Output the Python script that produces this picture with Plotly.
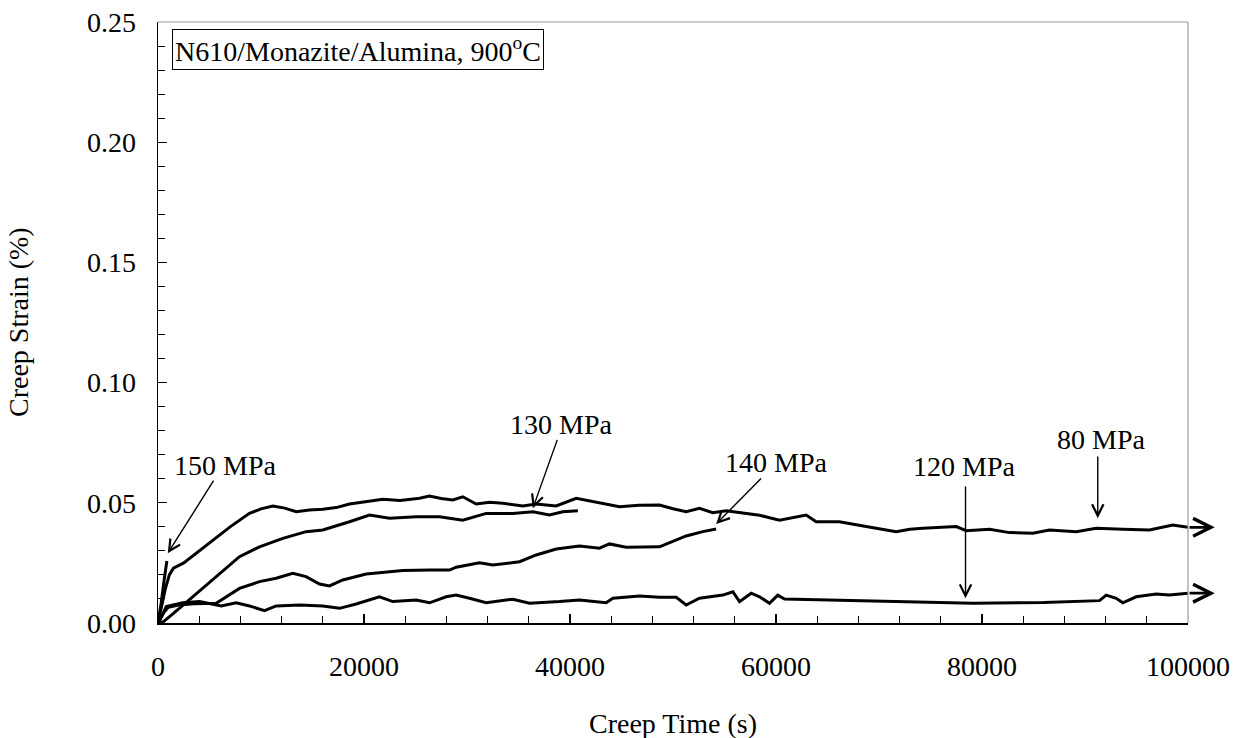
import plotly.graph_objects as go

# ---------------- data ----------------
x_80 = [0, 300, 700, 1100, 1500, 2500, 4000, 5500, 7000, 8880, 10000, 11150, 12300, 13420, 14700,
        16000, 17300, 18590, 20200, 21830, 23500, 25390, 26360, 27500, 28620, 29590, 30890, 32200,
        33480, 35420, 36720, 38660, 40600, 42210, 44810, 46700, 48690, 50000, 51280, 52570, 53860,
        55160, 56780, 58400, 60340, 61800, 62930, 63900, 66160, 68750, 70200, 71670, 73000, 74250,
        77500, 78460, 80730, 82670, 84930, 86550, 89150, 91090, 93670, 96260, 98520, 100000]
y_80 = [0, 0.006, 0.014, 0.020, 0.0228, 0.025, 0.030, 0.035, 0.040, 0.0456, 0.0475, 0.0487, 0.0478,
        0.0463, 0.0470, 0.0473, 0.0480, 0.0495, 0.0505, 0.0515, 0.0510, 0.0519, 0.0528, 0.0518,
        0.0512, 0.0525, 0.0495, 0.0502, 0.0498, 0.0487, 0.0495, 0.0487, 0.0519, 0.0505, 0.0484,
        0.0490, 0.0491, 0.0475, 0.0463, 0.0477, 0.0459, 0.0467, 0.0456, 0.0448, 0.0428, 0.0440,
        0.0449, 0.0421, 0.0421, 0.0401, 0.0392, 0.0380, 0.0390, 0.0394, 0.0401, 0.0384, 0.0390,
        0.0376, 0.0373, 0.0387, 0.0380, 0.0394, 0.0390, 0.0387, 0.0408, 0.0398]

x_130 = [0, 500, 1500, 3380, 5650, 7910, 9850, 12120, 14380, 16000, 18590, 20530, 22480, 25070,
         27330, 29590, 31860, 34450, 36390, 38010, 39300, 40760]
y_130 = [0, 0.0005, 0.004, 0.0109, 0.0193, 0.0276, 0.0317, 0.0352, 0.0380, 0.0387, 0.0421, 0.0449,
         0.0436, 0.0442, 0.0442, 0.0428, 0.0456, 0.0456, 0.0463, 0.0449, 0.0463, 0.0467]

x_140 = [0, 500, 1000, 2000, 3500, 5650, 7910, 9850, 11470, 13090, 14380, 15680, 16650, 17940,
         20210, 23770, 26360, 28300, 28950, 31210, 32500, 35100, 36720, 38660, 40920, 42860, 43830,
         45450, 48690, 49980, 51280, 52890, 54190]
y_140 = [0, 0.004, 0.0065, 0.0075, 0.0080, 0.0082, 0.0144, 0.0172, 0.0186, 0.0207, 0.0193, 0.0162,
         0.0154, 0.0179, 0.0204, 0.0218, 0.0220, 0.0220, 0.0232, 0.0251, 0.0241, 0.0255, 0.0283,
         0.0308, 0.0320, 0.0311, 0.0329, 0.0315, 0.0317, 0.0338, 0.0362, 0.0380, 0.0391]

x_120 = [0, 400, 800, 2410, 4030, 6140, 7590, 8880, 10340, 11470, 13740, 16000, 17620, 19240, 21500,
         22800, 25070, 26360, 27980, 28950, 30240, 31860, 34450, 36070, 38980, 40920, 43510, 44160,
         46750, 48690, 50310, 51280, 52570, 54840, 55810, 56460, 57590, 58400, 59370, 60170, 60830,
         70000, 79110, 86000, 91410, 92060, 93030, 93670, 94970, 96910, 98200, 100000]
y_120 = [0, 0.003, 0.0068, 0.0084, 0.0089, 0.0071, 0.0084, 0.0071, 0.0051, 0.0071, 0.0075, 0.0071,
         0.0061, 0.0079, 0.0109, 0.0089, 0.0096, 0.0084, 0.0109, 0.0116, 0.0103, 0.0084, 0.0099,
         0.0082, 0.0089, 0.0096, 0.0084, 0.0103, 0.0112, 0.0107, 0.0107, 0.0075, 0.0103, 0.0116,
         0.0130, 0.0089, 0.0124, 0.0109, 0.0082, 0.0116, 0.0100, 0.0090, 0.0082, 0.0085, 0.0093,
         0.0116, 0.0103, 0.0084, 0.0109, 0.0121, 0.0116, 0.0124]

x_150 = [0, 300, 600, 860]
y_150 = [0, 0.008, 0.018, 0.0258]

x_ticks = [0, 20000, 40000, 60000, 80000, 100000]
y_ticks = [0.00, 0.05, 0.10, 0.15, 0.20, 0.25]

labels = ["150 MPa", "130 MPa", "140 MPa", "120 MPa", "80 MPa"]
label_x = [6456, 39170, 60040, 78300, 91600]
label_y = [0.0657, 0.0824, 0.0666, 0.0649, 0.0765]
# arrow tail -> tip
arr_tail_x = [5485, 38816, 58690, 78400, 91240]
arr_tail_y = [0.0598, 0.0768, 0.0607, 0.0574, 0.0699]
arr_tip_x = [951, 36390, 54190, 78400, 91240]
arr_tip_y = [0.0290, 0.0477, 0.0412, 0.0103, 0.0436]

runout_y = [y_80[-1], y_120[-1]]
runout_end_x = 102600

FONT = "Liberation Serif, Times New Roman, serif"
FS = 28

fig = go.Figure()
for xs, ys in [(x_80, y_80), (x_130, y_130), (x_140, y_140), (x_120, y_120), (x_150, y_150)]:
    fig.add_trace(go.Scatter(x=xs, y=ys, mode="lines",
                             line=dict(color="black", width=3), showlegend=False,
                             hoverinfo="skip"))

ann = []
for t, lx, ly in zip(labels, label_x, label_y):
    ann.append(dict(x=lx, y=ly, xref="x", yref="y", text=t, showarrow=False,
                    font=dict(family=FONT, size=FS, color="black"),
                    xanchor="center", yanchor="middle"))
for tx, ty, hx, hy in zip(arr_tail_x, arr_tail_y, arr_tip_x, arr_tip_y):
    ann.append(dict(x=hx, y=hy, ax=tx, ay=ty, xref="x", yref="y", axref="x", ayref="y",
                    text="", showarrow=True, arrowhead=5, arrowsize=1.6, arrowwidth=1.4,
                    arrowcolor="black", standoff=0, startstandoff=0))
for ry in runout_y:
    ann.append(dict(x=runout_end_x, y=ry, ax=x_ticks[-1], ay=ry, xref="x", yref="y",
                    axref="x", ayref="y", text="", showarrow=True, arrowhead=5,
                    arrowsize=1.25, arrowwidth=2.8, arrowcolor="black",
                    standoff=0, startstandoff=0))

ann.append(dict(x=0.014, y=0.989, xref="paper", yref="paper", xanchor="left", yanchor="top",
                text="N610/Monazite/Alumina, 900<sup>o</sup>C", showarrow=False,
                font=dict(family=FONT, size=FS, color="black"),
                bordercolor="black", borderwidth=1, borderpad=2, bgcolor="white"))
ann.append(dict(x=0.5, y=-0.168, xref="paper", yref="paper", text="Creep Time (s)",
                showarrow=False, font=dict(family=FONT, size=FS, color="black"),
                xanchor="center", yanchor="middle"))
ann.append(dict(x=-0.1354, y=0.5, xref="paper", yref="paper", text="Creep Strain (%)",
                textangle=-90, showarrow=False, font=dict(family=FONT, size=FS, color="black"),
                xanchor="center", yanchor="middle"))

fig.update_layout(
    width=1244, height=738, autosize=False,
    margin=dict(l=158, r=56, t=22, b=115),
    plot_bgcolor="white", paper_bgcolor="white",
    font=dict(family=FONT, size=FS, color="black"),
    annotations=ann,
    shapes=[
        dict(type="line", xref="paper", yref="paper", x0=0, x1=1, y0=1, y1=1,
             line=dict(color="#999999", width=1.2)),
        dict(type="line", xref="paper", yref="paper", x0=1, x1=1, y0=0, y1=1,
             line=dict(color="#999999", width=1.2)),
    ],
)
fig.update_xaxes(range=[0, 100000], tickvals=x_ticks, tickformat="d",
                 ticks="inside", ticklen=9, tickwidth=1.2, tickcolor="black",
                 showline=True, linecolor="black", linewidth=1.5,
                 showgrid=False, zeroline=False, ticklabelstandoff=18, automargin=False,
                 ticklabeloverflow="allow",
                 tickfont=dict(family=FONT, size=FS, color="black"),
                 minor=dict(dtick=4000, tick0=0, ticks="inside", ticklen=7,
                            tickwidth=1, tickcolor="black", showgrid=False))
fig.update_yaxes(range=[0, 0.25], tickvals=y_ticks, tickformat=".2f",
                 ticks="inside", ticklen=9, tickwidth=1.2, tickcolor="black",
                 showline=True, linecolor="black", linewidth=1.5,
                 showgrid=False, zeroline=False, ticklabelstandoff=15, automargin=False,
                 ticklabeloverflow="allow",
                 tickfont=dict(family=FONT, size=FS, color="black"),
                 minor=dict(dtick=0.01, tick0=0, ticks="inside", ticklen=7,
                            tickwidth=1, tickcolor="black", showgrid=False))

# remove the default 8px body margin so the 1244x738 figure fills the window exactly
fig.write_html("out.html", config={"displayModeBar": False, "staticPlot": True},
               post_script="document.body.style.margin='0';document.body.style.overflow='hidden';")
